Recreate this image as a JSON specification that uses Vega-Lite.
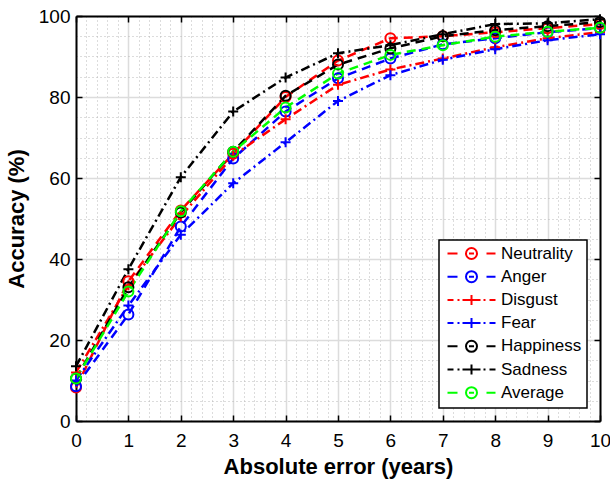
{
  "$schema": "https://vega.github.io/schema/vega-lite/v6.json",
  "width": 524,
  "height": 405,
  "autosize": "none",
  "padding": {"left": 76, "top": 16, "right": 10, "bottom": 66},
  "background": "white",
  "config": {
    "font": "Liberation Sans",
    "view": {"stroke": null},
    "legend": {
      "labelFont": "Liberation Sans",
      "labelFontSize": 17,
      "labelColor": "black"
    }
  },
  "data": {
    "values": [
      {"series": "Neutrality", "x": 0, "y": 8.3}, {"series": "Neutrality", "x": 1, "y": 34.5}, {"series": "Neutrality", "x": 2, "y": 52}, {"series": "Neutrality", "x": 3, "y": 66}, {"series": "Neutrality", "x": 4, "y": 80}, {"series": "Neutrality", "x": 5, "y": 89}, {"series": "Neutrality", "x": 6, "y": 94.5}, {"series": "Neutrality", "x": 7, "y": 95}, {"series": "Neutrality", "x": 8, "y": 96}, {"series": "Neutrality", "x": 9, "y": 97}, {"series": "Neutrality", "x": 10, "y": 98},
      {"series": "Anger", "x": 0, "y": 8.6}, {"series": "Anger", "x": 1, "y": 26.3}, {"series": "Anger", "x": 2, "y": 48}, {"series": "Anger", "x": 3, "y": 64.8}, {"series": "Anger", "x": 4, "y": 76.4}, {"series": "Anger", "x": 5, "y": 84.6}, {"series": "Anger", "x": 6, "y": 89.5}, {"series": "Anger", "x": 7, "y": 93}, {"series": "Anger", "x": 8, "y": 94.5}, {"series": "Anger", "x": 9, "y": 96}, {"series": "Anger", "x": 10, "y": 97},
      {"series": "Disgust", "x": 0, "y": 12}, {"series": "Disgust", "x": 1, "y": 33.5}, {"series": "Disgust", "x": 2, "y": 50.5}, {"series": "Disgust", "x": 3, "y": 65.5}, {"series": "Disgust", "x": 4, "y": 74.5}, {"series": "Disgust", "x": 5, "y": 83}, {"series": "Disgust", "x": 6, "y": 86.8}, {"series": "Disgust", "x": 7, "y": 89.5}, {"series": "Disgust", "x": 8, "y": 92.3}, {"series": "Disgust", "x": 9, "y": 94.5}, {"series": "Disgust", "x": 10, "y": 96},
      {"series": "Fear", "x": 0, "y": 10}, {"series": "Fear", "x": 1, "y": 28.5}, {"series": "Fear", "x": 2, "y": 46}, {"series": "Fear", "x": 3, "y": 58.7}, {"series": "Fear", "x": 4, "y": 68.8}, {"series": "Fear", "x": 5, "y": 79}, {"series": "Fear", "x": 6, "y": 85.4}, {"series": "Fear", "x": 7, "y": 89.2}, {"series": "Fear", "x": 8, "y": 91.8}, {"series": "Fear", "x": 9, "y": 94}, {"series": "Fear", "x": 10, "y": 95.5},
      {"series": "Happiness", "x": 0, "y": 10.5}, {"series": "Happiness", "x": 1, "y": 33}, {"series": "Happiness", "x": 2, "y": 51.5}, {"series": "Happiness", "x": 3, "y": 66.5}, {"series": "Happiness", "x": 4, "y": 80.3}, {"series": "Happiness", "x": 5, "y": 88}, {"series": "Happiness", "x": 6, "y": 92}, {"series": "Happiness", "x": 7, "y": 95}, {"series": "Happiness", "x": 8, "y": 96.5}, {"series": "Happiness", "x": 9, "y": 97.5}, {"series": "Happiness", "x": 10, "y": 98.5},
      {"series": "Sadness", "x": 0, "y": 13.5}, {"series": "Sadness", "x": 1, "y": 37.5}, {"series": "Sadness", "x": 2, "y": 60.2}, {"series": "Sadness", "x": 3, "y": 76.4}, {"series": "Sadness", "x": 4, "y": 84.8}, {"series": "Sadness", "x": 5, "y": 90.8}, {"series": "Sadness", "x": 6, "y": 92.8}, {"series": "Sadness", "x": 7, "y": 95.5}, {"series": "Sadness", "x": 8, "y": 98}, {"series": "Sadness", "x": 9, "y": 98.2}, {"series": "Sadness", "x": 10, "y": 99.2},
      {"series": "Average", "x": 0, "y": 10.5}, {"series": "Average", "x": 1, "y": 32}, {"series": "Average", "x": 2, "y": 51.8}, {"series": "Average", "x": 3, "y": 66.5}, {"series": "Average", "x": 4, "y": 77.4}, {"series": "Average", "x": 5, "y": 85.8}, {"series": "Average", "x": 6, "y": 90.4}, {"series": "Average", "x": 7, "y": 92.8}, {"series": "Average", "x": 8, "y": 94.9}, {"series": "Average", "x": 9, "y": 96.1}, {"series": "Average", "x": 10, "y": 97.1}
    ]
  },
  "layer": [
    {
      "mark": {"type": "line", "strokeWidth": 2.5},
      "encoding": {
        "x": {
          "field": "x", "type": "quantitative",
          "scale": {"domain": [0, 10], "nice": false, "zero": false},
          "axis": {
            "orient": "bottom",
            "values": [0, 0.2, 0.4, 0.6, 0.8, 1, 1.2, 1.4, 1.6, 1.8, 2, 2.2, 2.4, 2.6, 2.8, 3, 3.2, 3.4, 3.6, 3.8, 4, 4.2, 4.4, 4.6, 4.8, 5, 5.2, 5.4, 5.6, 5.8, 6, 6.2, 6.4, 6.6, 6.8, 7, 7.2, 7.4, 7.6, 7.8, 8, 8.2, 8.4, 8.6, 8.8, 9, 9.2, 9.4, 9.6, 9.8, 10],
            "labelExpr": "datum.value % 1 === 0 ? format(datum.value, 'd') : ''",
            "grid": true,
            "gridColor": {"condition": {"test": "datum.value % 1 === 0", "value": "#dcdcdc"}, "value": "#b8b8b8"},
            "gridDash": {"condition": {"test": "datum.value % 1 === 0", "value": []}, "value": [1, 3]},
            "gridWidth": {"condition": {"test": "datum.value % 1 === 0", "value": 1.5}, "value": 1},
            "ticks": true,
            "tickSize": -6,
            "tickWidth": 1.5,
            "tickColor": "black",
            "tickOpacity": {"condition": {"test": "datum.value % 1 === 0", "value": 1}, "value": 0},
            "domainColor": "black",
            "domainWidth": 2,
            "labelFontSize": 19,
            "labelColor": "black",
            "labelPadding": 16,
            "labelFlush": false,
            "labelOverlap": false,
            "title": "Absolute error (years)",
            "titleFontSize": 22,
            "titleFontWeight": "bold",
            "titleColor": "black",
            "titlePadding": 6
          }
        },
        "y": {
          "field": "y", "type": "quantitative",
          "scale": {"domain": [0, 100], "nice": false, "zero": true},
          "axis": {
            "orient": "left",
            "values": [0, 5, 10, 15, 20, 25, 30, 35, 40, 45, 50, 55, 60, 65, 70, 75, 80, 85, 90, 95, 100],
            "labelExpr": "datum.value % 20 === 0 ? datum.label : ''",
            "grid": true,
            "gridColor": {"condition": {"test": "datum.value % 20 === 0", "value": "#dcdcdc"}, "value": "#b8b8b8"},
            "gridDash": {"condition": {"test": "datum.value % 20 === 0", "value": []}, "value": [1, 3]},
            "gridWidth": {"condition": {"test": "datum.value % 20 === 0", "value": 1.5}, "value": 1},
            "ticks": true,
            "tickSize": -6,
            "tickWidth": 1.5,
            "tickColor": "black",
            "tickOpacity": {"condition": {"test": "datum.value % 20 === 0", "value": 1}, "value": 0},
            "domainColor": "black",
            "domainWidth": 2,
            "labelFontSize": 19,
            "labelColor": "black",
            "labelPadding": 12,
            "labelFlush": false,
            "labelOverlap": false,
            "title": "Accuracy (%)",
            "titleFontSize": 22,
            "titleFontWeight": "bold",
            "titleColor": "black",
            "titlePadding": 10
          }
        },
        "color": {
          "field": "series", "type": "nominal",
          "scale": {
            "domain": ["Neutrality", "Anger", "Disgust", "Fear", "Happiness", "Sadness", "Average"],
            "range": ["#ff0000", "#0000ff", "#ff0000", "#0000ff", "#000000", "#000000", "#00ff00"]
          },
          "legend": {
            "title": null,
            "orient": "bottom-right",
            "offset": 13,
            "padding": 5,
            "strokeColor": "black",
            "fillColor": "white",
            "symbolSize": 100,
            "symbolStrokeWidth": 2,
            "labelOffset": 40,
            "rowPadding": 4.2,
            "encode": {
              "legend": {"update": {"strokeWidth": {"value": 1.5}}},
              "symbols": {
                "update": {
                  "shape": {"signal": "indexof(['Disgust','Fear','Sadness'], datum.value) >= 0 ? 'M-1,0L0.2,0M1,0L1.4,0M2,0L3,0M2.8,0L4.8,0M3.8,-1L3.8,1M4.6,0L5.6,0M6.2,0L6.6,0M7.4,0L8.6,0' : 'M-1,0L1,0M2.7,0A1.1,1.1 0 1,0 4.9,0A1.1,1.1 0 1,0 2.7,0M3.3,0L4.3,0M6.8,0L8.6,0'"},
                  "fill": {"value": "transparent"},
                  "strokeDash": {"value": []},
                  "strokeWidth": {"value": 2}
                }
              }
            }
          }
        },
        "strokeDash": {
          "field": "series", "type": "nominal",
          "scale": {
            "range": [[9, 6], [9, 6], [9, 4, 2, 4], [9, 4, 2, 4], [9, 6], [9, 6], [9, 4, 2, 4]]
          },
          "legend": null
        }
      }
    },
    {
      "mark": {"type": "point", "filled": false, "strokeWidth": 2, "size": 100, "opacity": 1},
      "encoding": {
        "x": {
          "field": "x", "type": "quantitative",
          "axis": {
            "orient": "top",
            "values": [0, 1, 2, 3, 4, 5, 6, 7, 8, 9, 10],
            "labels": false,
            "grid": false,
            "ticks": true,
            "tickSize": -6,
            "tickWidth": 1.5,
            "tickColor": "black",
            "domainColor": "black",
            "domainWidth": 2,
            "title": null
          }
        },
        "y": {
          "field": "y", "type": "quantitative",
          "axis": {
            "orient": "right",
            "values": [0, 20, 40, 60, 80, 100],
            "labels": false,
            "grid": false,
            "ticks": true,
            "tickSize": -6,
            "tickWidth": 1.5,
            "tickColor": "black",
            "domainColor": "black",
            "domainWidth": 2,
            "title": null
          }
        },
        "color": {"field": "series", "type": "nominal"},
        "shape": {
          "field": "series", "type": "nominal",
          "scale": {
            "range": ["circle", "circle", "M-1,0L1,0M0,-1L0,1", "M-1,0L1,0M0,-1L0,1", "circle", "circle", "M-1,0L1,0M0,-1L0,1"]
          },
          "legend": null
        }
      }
    }
  ],
  "resolve": {"axis": {"x": "independent", "y": "independent"}}
}
